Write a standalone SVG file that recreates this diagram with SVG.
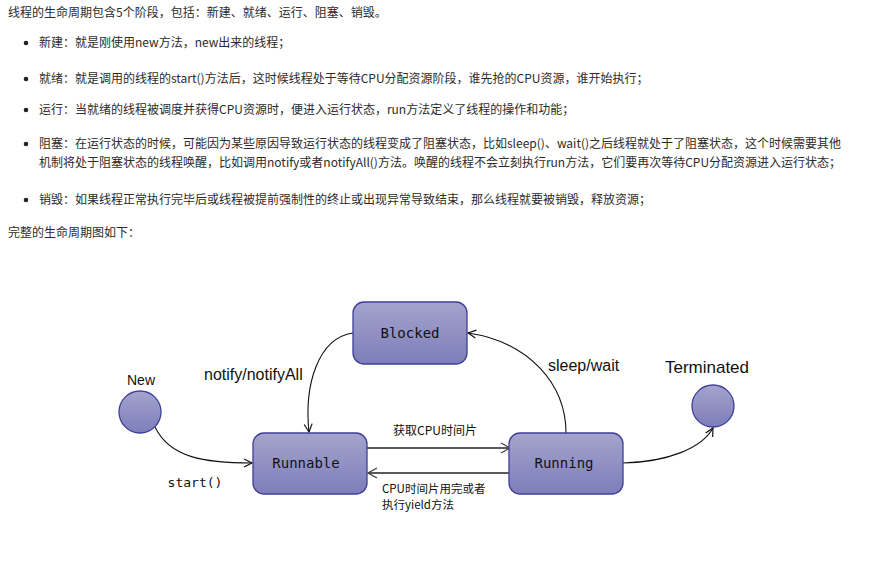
<svg xmlns="http://www.w3.org/2000/svg" width="883" height="569" viewBox="0 0 883 569">
<defs>
<style>
.t{font-family:"Noto Sans CJK SC","Noto Sans",sans-serif;font-size:12px;fill:#2b2b2b}
.node{fill:url(#g);stroke:#3e3e9a;stroke-width:1.3}
.nl{font-family:"DejaVu Sans Mono","Liberation Mono",monospace;font-size:14px;fill:#111;text-anchor:middle}
.lbl{font-family:"Liberation Sans",Arial,sans-serif;font-size:16px;fill:#111}
.cj{font-family:"Noto Sans CJK SC",sans-serif;font-size:11.5px;fill:#111}
.cv{fill:none;stroke:#111;stroke-width:1.1}
.hz{fill:none;stroke:#5a5a5a;stroke-width:2}
</style>
<linearGradient id="g" x1="0" y1="0" x2="0" y2="1">
<stop offset="0" stop-color="#a4a4cd"/>
<stop offset="1" stop-color="#7d7dba"/>
</linearGradient>
<marker id="a" markerUnits="userSpaceOnUse" markerWidth="12" markerHeight="12" refX="9" refY="5" orient="auto">
<path d="M1,1 L9,5 L1,9" fill="none" stroke="#111" stroke-width="1.2"/>
</marker>
<marker id="ag" markerUnits="userSpaceOnUse" markerWidth="14" markerHeight="14" refX="10" refY="6" orient="auto">
<path d="M1,1 L10,6 L1,11" fill="none" stroke="#444" stroke-width="1.4"/>
</marker>
</defs>
<rect width="883" height="569" fill="#fff"/>
<g id="text">
<text class="t" x="8" y="17">线程的生命周期包含5个阶段，包括：新建、就绪、运行、阻塞、销毁。</text>
<circle cx="26" cy="43" r="2.3" fill="#222"/>
<text class="t" x="39" y="47">新建：就是刚使用new方法，new出来的线程；</text>
<circle cx="26" cy="79" r="2.3" fill="#222"/>
<text class="t" x="39" y="83">就绪：就是调用的线程的start()方法后，这时候线程处于等待CPU分配资源阶段，谁先抢的CPU资源，谁开始执行；</text>
<circle cx="26" cy="110" r="2.3" fill="#222"/>
<text class="t" x="39" y="114">运行：当就绪的线程被调度并获得CPU资源时，便进入运行状态，run方法定义了线程的操作和功能；</text>
<circle cx="26" cy="144" r="2.3" fill="#222"/>
<text class="t" x="39" y="148">阻塞：在运行状态的时候，可能因为某些原因导致运行状态的线程变成了阻塞状态，比如sleep()、wait()之后线程就处于了阻塞状态，这个时候需要其他</text>
<text class="t" x="39" y="167">机制将处于阻塞状态的线程唤醒，比如调用notify或者notifyAll()方法。唤醒的线程不会立刻执行run方法，它们要再次等待CPU分配资源进入运行状态；</text>
<circle cx="26" cy="200" r="2.3" fill="#222"/>
<text class="t" x="39" y="204">销毁：如果线程正常执行完毕后或线程被提前强制性的终止或出现异常导致结束，那么线程就要被销毁，释放资源；</text>
<text class="t" x="8" y="237">完整的生命周期图如下：</text>
</g>
<g id="connectors">
<path class="cv" d="M155,427 C170,458 205,463 252,463" marker-end="url(#a)"/>
<path class="cv" d="M353,333 C318,338 304,385 309,432" marker-end="url(#a)"/>
<path class="cv" d="M566,433 C566,385 530,342 468,333" marker-end="url(#a)"/>
<path class="cv" d="M623,463 C668,462 702,448 713,428" marker-end="url(#a)"/>
<path class="hz" d="M367,448 L510,448" marker-end="url(#ag)"/>
<path class="hz" d="M509,473 L368,473" marker-end="url(#ag)"/>
<text class="lbl" x="204" y="380">notify/notifyAll</text>
<text class="lbl" x="548" y="371">sleep/wait</text>
<text class="nl" x="195" y="487" style="font-size:13px">start()</text>
<text class="cj" x="393" y="435" style="font-size:12px">获取CPU时间片</text>
<text class="cj" x="382" y="493">CPU时间片用完或者</text>
<text class="cj" x="382" y="509">执行yield方法</text>
</g>
<g id="new">
<text x="141" y="385" style="font-family:'Liberation Sans',Arial,sans-serif;font-size:14px;fill:#111;text-anchor:middle">New</text>
<circle class="node" cx="140" cy="412" r="21"/>
</g>
<g id="blocked">
<rect class="node" x="353" y="302" width="114" height="62" rx="11"/>
<text class="nl" x="410" y="338">Blocked</text>
</g>
<g id="runnable">
<rect class="node" x="253" y="433" width="114" height="61" rx="11"/>
<text class="nl" x="306" y="468">Runnable</text>
</g>
<g id="running">
<rect class="node" x="509" y="433" width="114" height="61" rx="11"/>
<text class="nl" x="564" y="468">Running</text>
</g>
<g id="terminated">
<text x="707" y="373" style="font-family:'Liberation Sans',Arial,sans-serif;font-size:17px;fill:#111;text-anchor:middle">Terminated</text>
<circle class="node" cx="713" cy="406" r="21"/>
</g>
</svg>
